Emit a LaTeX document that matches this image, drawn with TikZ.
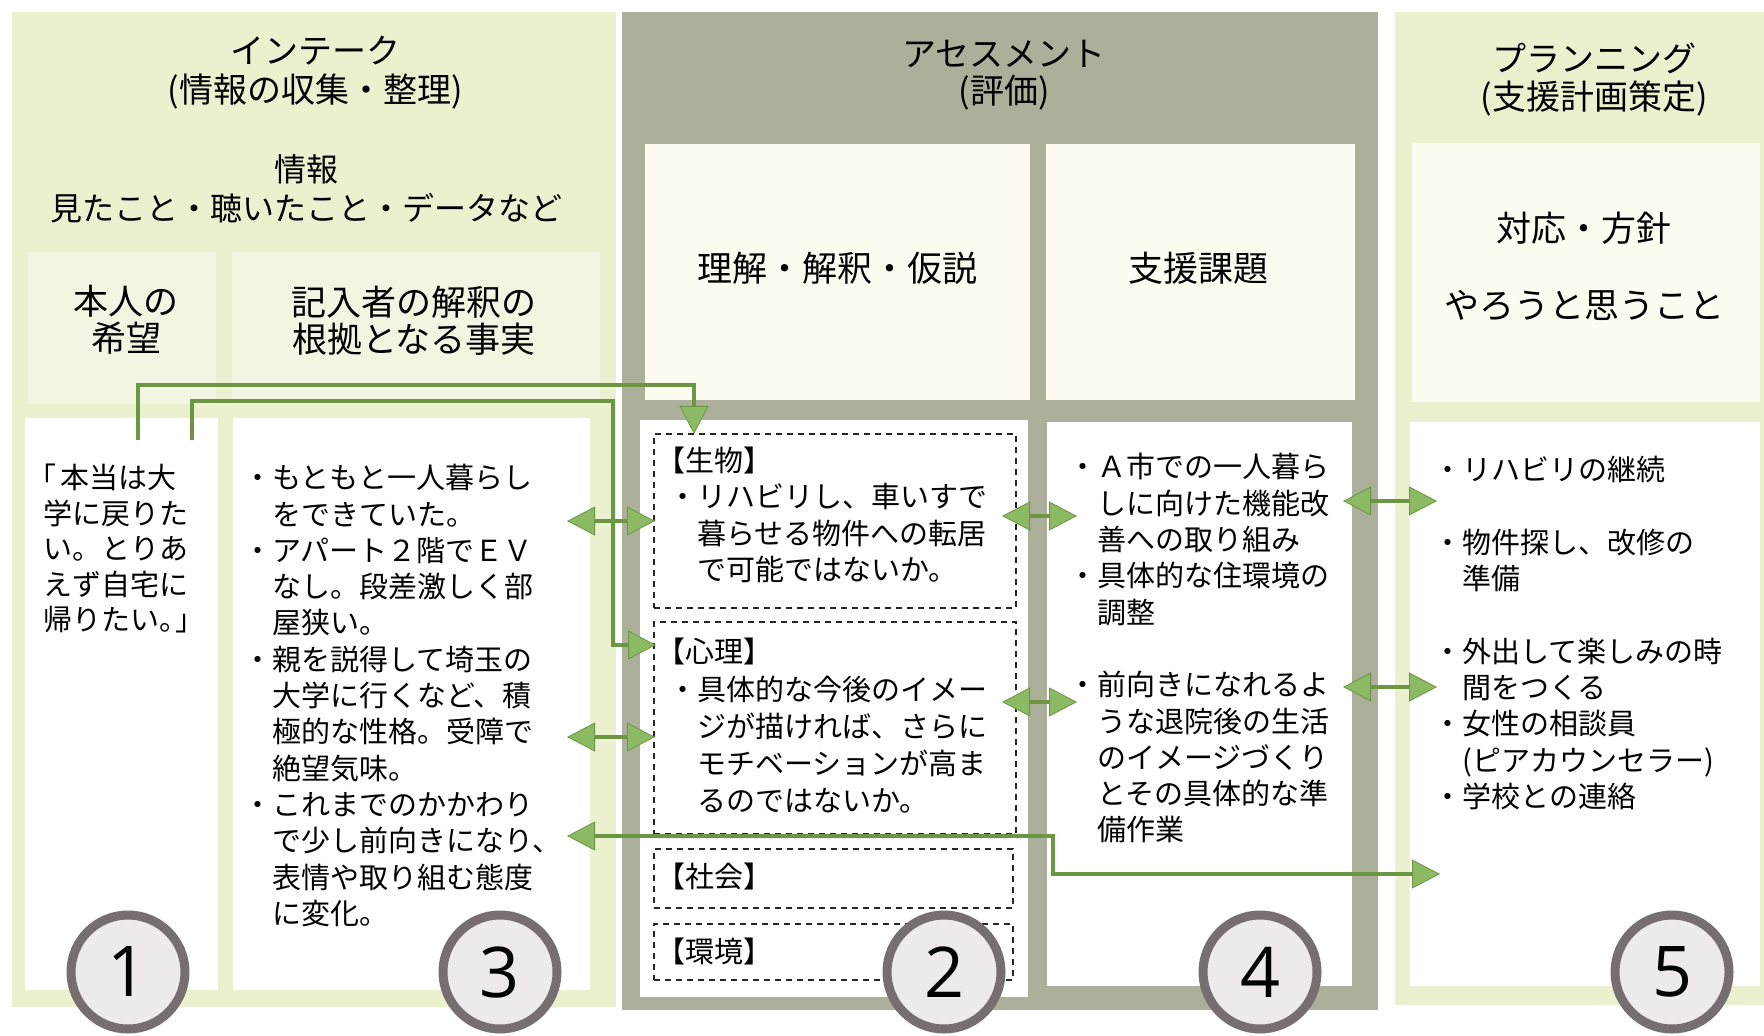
\documentclass[tikz,border=0pt]{standalone}
\usepackage{fontspec}
\setmainfont{Noto Sans CJK JP}
\newfontfamily\numfont{Open Sans}
\usetikzlibrary{arrows.meta,fit,calc}
\definecolor{panelgreen}{RGB}{235,240,206}
\definecolor{cellgreen}{RGB}{242,245,225}
\definecolor{assessgray}{RGB}{172,175,154}
\definecolor{cream}{RGB}{252,252,241}
\definecolor{arrowgreen}{RGB}{108,150,68}
\definecolor{headgreen}{RGB}{140,186,100}
\definecolor{ringgray}{RGB}{118,110,112}
\definecolor{ringfill}{RGB}{238,233,235}
\tikzset{
  area/.style={inner sep=0pt, outer sep=0pt, draw=none},
  dashbox/.style={inner sep=0pt, outer sep=0pt, draw=black!85, line width=0.8pt, dash pattern=on 3pt off 2.5pt},
  title/.style={font=\fontsize{17pt}{20pt}\selectfont, align=center, inner sep=0pt},
  info/.style={font=\fontsize{16pt}{19pt}\selectfont, align=center, inner sep=0pt},
  head/.style={font=\fontsize{17.5pt}{18.7pt}\selectfont, align=center, inner sep=0pt},
  body/.style={font=\fontsize{14.5pt}{18.15pt}\selectfont, align=left, anchor=north west, inner sep=0pt},
  conn/.style={draw=arrowgreen, line width=2.2pt},
  ring/.style={circle, draw=ringgray, line width=4.5pt, fill=ringfill, minimum size=57pt, inner sep=0pt, font=\numfont\fontsize{35pt}{35pt}\selectfont}
}
\begin{document}
\begin{tikzpicture}[x=0.5pt,y=-0.5pt,
  >={Triangle[length=14pt,width=14.5pt,line width=0.4pt,fill=headgreen]}]
\useasboundingbox (0,0) rectangle (1764,1036);
\fill[white] (0,0) rectangle (1764,1036);

% ---------- panels ----------
\node[area, fill=panelgreen, fit={(12,12) (616,1007)}] (intake) {};
\node[area, fill=assessgray, fit={(622,12) (1378,1010)}] (assess) {};
\node[area, fill=panelgreen, fit={(1395,12) (1764,1005)}] (plan) {};

% intake cells
\node[area, fill=cellgreen, fit={(28,252) (216,404)}] (cellwish) {};
\node[area, fill=cellgreen, fit={(232,252) (600,404)}] (cellfact) {};
\node[area, fill=white, fit={(25,418) (218,990)}] (box1) {};
\node[area, fill=white, fit={(233,418) (590,990)}] (box3) {};

% assessment cells
\node[area, fill=cream, fit={(645,144) (1030,400)}] (cellA) {};
\node[area, fill=cream, fit={(1046,144) (1355,400)}] (cellB) {};
\node[area, fill=white, fit={(640,420) (1028,997)}] (box2) {};
\node[area, fill=white, fit={(1047,422) (1352,986)}] (box4) {};
\node[dashbox, fit={(654,434) (1016,608)}] (bio) {};
\node[dashbox, fit={(654,622) (1016,834)}] (psy) {};
\node[dashbox, fit={(654,849) (1013,908)}] (soc) {};
\node[dashbox, fit={(654,924) (1013,980)}] (env) {};

% planning cells
\node[area, fill=cream, fit={(1412,143) (1760,402)}] (cellP) {};
\node[area, fill=white, fit={(1410,422) (1760,986)}] (box5) {};

% ---------- titles & headers ----------
\node[title] (t1a) at (315,51) {インテーク};
\node[title] (t1b) at (315,92) {(情報の収集・整理)};
\node[info] (info1) at (306,169) {情報};
\node[info] (info2) at (306,208) {見たこと・聴いたこと・データなど};
\node[head] (hwish) at (126,320) {本人の\\希望};
\node[head] (hfact) at (414,321) {記入者の解釈の\\根拠となる事実};

\node[title] (t2a) at (1004,54) {アセスメント};
\node[title] (t2b) at (1004,93) {(評価)};
\node[head] (hA) at (837,268) {理解・解釈・仮説};
\node[head] (hB) at (1198,268) {支援課題};

\node[title] (t3a) at (1594,58) {プランニング};
\node[title] (t3b) at (1594,98) {(支援計画策定)};
\node[head] (hP1) at (1584,228) {対応・方針};
\node[head] (hP2) at (1584,306) {やろうと思うこと};

% ---------- body texts ----------
\node[body, font=\fontsize{14.5pt}{17.75pt}\selectfont] (txt1) at (43,464)
 {\makebox[0.6em][l]{\kern-0.55em「}本当は大\\学に戻りた\\い。とりあ\\えず自宅に\\帰りたい\makebox[0.55em][l]{。}」};

\node[body] (txt3) at (243,464)
 {・もともと一人暮らし\\　をできていた。\\・アパート２階でＥＶ\\　なし。段差激しく部\\　屋狭い。\\・親を説得して埼玉の\\　大学に行くなど、積\\　極的な性格。受障で\\　絶望気味。\\・これまでのかかわり\\　で少し前向きになり、\\　表情や取り組む態度\\　に変化。};

\node[body] (lbio) at (656,447) {【生物】};
\node[body, font=\fontsize{14.5pt}{18.3pt}\selectfont] (tbio) at (668,483)
 {・リハビリし、車いすで\\　暮らせる物件への転居\\　で可能ではないか。};
\node[body] (lpsy) at (656,638) {【心理】};
\node[body, font=\fontsize{14.5pt}{18.5pt}\selectfont] (tpsy) at (668,676)
 {・具体的な今後のイメー\\　ジが描ければ、さらに\\　モチベーションが高ま\\　るのではないか。};
\node[body] (lsoc) at (656,863) {【社会】};
\node[body] (lenv) at (656,938) {【環境】};

\node[body] (txt4) at (1068,453)
 {・Ａ市での一人暮ら\\　しに向けた機能改\\　善への取り組み\\・具体的な住環境の\\　調整\\[18.15pt]・前向きになれるよ\\　うな退院後の生活\\　のイメージづくり\\　とその具体的な準\\　備作業};

\node[body] (txt5) at (1433,456)
 {・リハビリの継続\\[18.15pt]・物件探し、改修の\\　準備\\[18.15pt]・外出して楽しみの時\\　間をつくる\\・女性の相談員\\　(ピアカウンセラー)\\・学校との連絡};

% ---------- connectors ----------
\coordinate (wA) at (138,440);
\coordinate (wAk1) at (138,385);
\coordinate (wAk2) at (694,385);
\coordinate (wAend) at (694,434);
\coordinate (wB) at (192,440);
\coordinate (wBk1) at (192,401);
\coordinate (wBk2) at (613,401);
\coordinate (wBk3) at (613,645);
\coordinate (wBend) at (656,645);

\draw[conn,->] (wA) -- (wAk1) -- (wAk2) -- (wAend);
\draw[conn,->] (wB) -- (wBk1) -- (wBk2) -- (wBk3) -- (wBend);

\coordinate (f1) at (567,521);  \coordinate (b1) at (655,521);
\coordinate (f2) at (567,737);  \coordinate (p1) at (655,737);
\coordinate (f3) at (567,836);  \coordinate (r1) at (1053,836);
\coordinate (r2) at (1053,874); \coordinate (pl3) at (1440,874);
\coordinate (b2) at (1002,516); \coordinate (s1) at (1077,516);
\coordinate (p2) at (1002,702); \coordinate (s2) at (1077,702);
\coordinate (s3) at (1343,501); \coordinate (pl1) at (1437,501);
\coordinate (s4) at (1343,687); \coordinate (pl2) at (1437,687);

\draw[conn,<->] (f1) -- (b1);
\draw[conn,<->] (f2) -- (p1);
\draw[conn,<->] (f3) -- (r1) -- (r2) -- (pl3);
\draw[conn,<->] (b2) -- (s1);
\draw[conn,<->] (p2) -- (s2);
\draw[conn,<->] (s3) -- (pl1);
\draw[conn,<->] (s4) -- (pl2);

% ---------- number rings ----------
\node[ring] (c1) at (128,972) {1};
\node[ring] (c3) at (500,972) {3};
\node[ring] (c2) at (944,972) {2};
\node[ring] (c4) at (1260,972) {4};
\node[ring] (c5) at (1672,972) {5};
\end{tikzpicture}
\end{document}
